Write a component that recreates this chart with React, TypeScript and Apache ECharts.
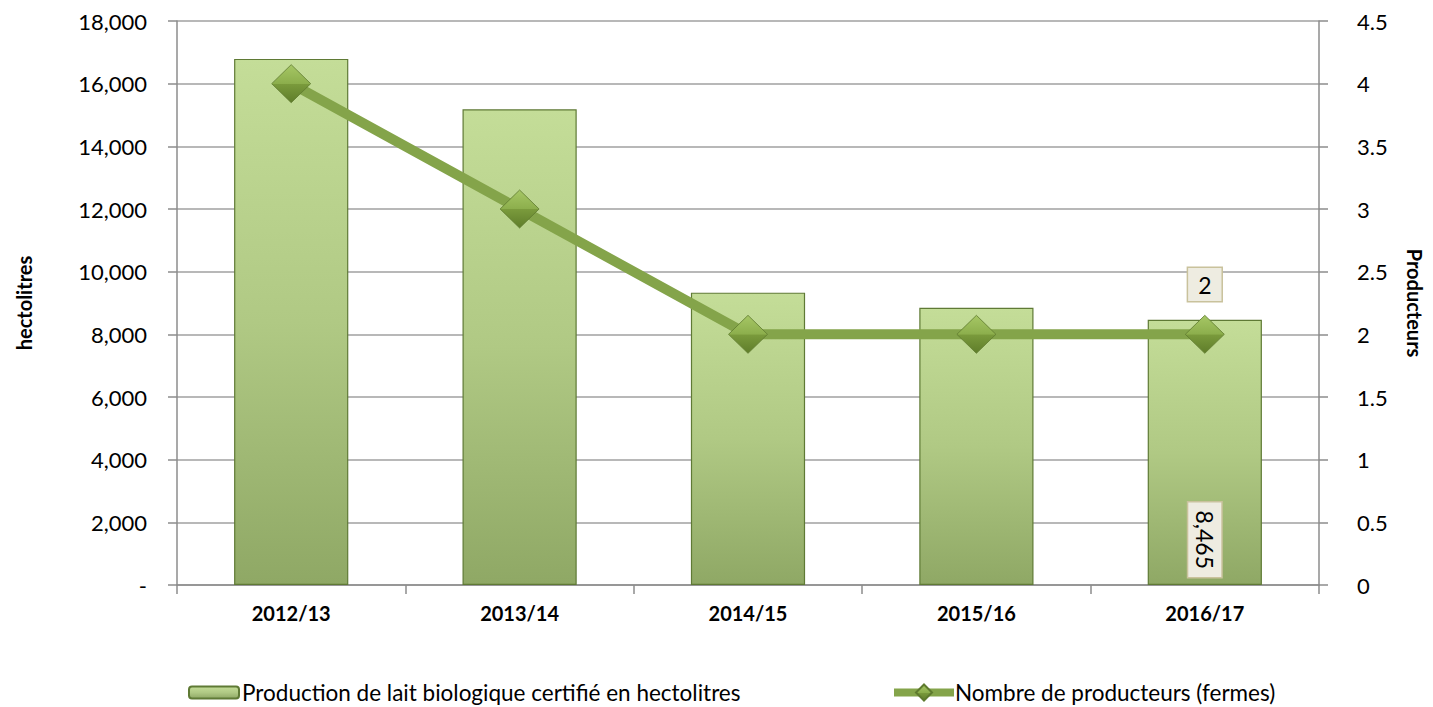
import React, { useEffect, useRef } from "react";
import * as echarts from "echarts";

const categories = ["2012/13", "2013/14", "2014/15", "2015/16", "2016/17"];
const production = [16790, 15180, 9330, 8850, 8465];
const producteurs = [4, 3, 2, 2, 2];
const seriesNames = [
  "Production de lait biologique certifié en hectolitres",
  "Nombre de producteurs (fermes)",
];

const FONT = "Lato, 'Open Sans', sans-serif";

export default function App() {
  const ref = useRef<HTMLDivElement>(null);
  useEffect(() => {
    if (!ref.current) return;
    const chart = echarts.init(ref.current, null, { renderer: "svg" });
    const barGrad = new echarts.graphic.LinearGradient(0, 0, 0, 1, [
      { offset: 0, color: "#c4dd98" },
      { offset: 0.5, color: "#b0c984" },
      { offset: 1, color: "#8fa865" },
    ]);
    const diamondGrad = new echarts.graphic.LinearGradient(0, 0, 0, 1, [
      { offset: 0, color: "#a6c765" },
      { offset: 0.5, color: "#8cae4c" },
      { offset: 0.51, color: "#7a9a3c" },
      { offset: 1, color: "#5f7d2a" },
    ]);
    const lastIdx = production.length - 1;
    const boxLabel = {
      fontFamily: FONT,
      fontSize: 23,
      color: "#000",
      backgroundColor: "#eeece1",
      borderColor: "#c9c29c",
      borderWidth: 1.5,
    };
    chart.setOption({
      animation: false,
      textStyle: { fontFamily: FONT },
      grid: { left: 177, right: 111, top: 21, bottom: 122, containLabel: false },
      legend: [
        {
          data: [seriesNames[0]],
          left: 183,
          top: 676,
          itemWidth: 50,
          itemHeight: 12,
          itemGap: 6,
          textStyle: { fontFamily: FONT, fontSize: 22.5, color: "#000", padding: [0, 0, 0, -2] },
        },
        {
          data: [seriesNames[1]],
          left: 885,
          top: 676,
          itemWidth: 60,
          itemHeight: 20,
          lineStyle: { width: 8 },
          textStyle: { fontFamily: FONT, fontSize: 22.5, color: "#000", padding: [0, 0, 0, -4] },
        },
      ],
      xAxis: {
        type: "category",
        data: categories,
        axisLine: { lineStyle: { color: "#8c8c8c", width: 1.5 } },
        axisTick: { show: true, length: 9, inside: false, lineStyle: { color: "#8c8c8c", width: 1.5 } },
        axisLabel: { fontFamily: FONT, fontSize: 20, fontWeight: "bold", color: "#000", margin: 18 },
      },
      yAxis: [
        {
          type: "value",
          min: 0,
          max: 18000,
          interval: 2000,
          name: "hectolitres",
          nameLocation: "middle",
          nameGap: 143,
          nameTextStyle: { fontFamily: FONT, fontSize: 20, fontWeight: "bold", color: "#000" },
          axisLine: { show: true, lineStyle: { color: "#8c8c8c", width: 1.5 } },
          axisTick: { show: true, length: 9, lineStyle: { color: "#8c8c8c", width: 1.5 } },
          splitLine: { show: true, lineStyle: { color: "#a0a0a0", width: 1.5 } },
          axisLabel: {
            fontFamily: FONT,
            fontSize: 22,
            color: "#000",
            margin: 30,
            formatter: (v: number) => (v === 0 ? "-" : v.toLocaleString("en-US")),
          },
        },
        {
          type: "value",
          min: 0,
          max: 4.5,
          interval: 0.5,
          name: "Producteurs",
          nameLocation: "middle",
          nameGap: 86,
          nameRotate: -90,
          nameTextStyle: { fontFamily: FONT, fontSize: 20, fontWeight: "bold", color: "#000" },
          axisLine: { show: true, lineStyle: { color: "#8c8c8c", width: 1.5 } },
          axisTick: { show: true, length: 9, lineStyle: { color: "#8c8c8c", width: 1.5 } },
          splitLine: { show: false },
          axisLabel: { fontFamily: FONT, fontSize: 22, color: "#000", margin: 38 },
        },
      ],
      series: [
        {
          name: seriesNames[0],
          type: "bar",
          yAxisIndex: 0,
          barWidth: "50%",
          itemStyle: { color: barGrad, borderColor: "#5f7a35", borderWidth: 1.2 },
          data: production.map((v, i) =>
            i === lastIdx
              ? {
                  value: v,
                  label: {
                    show: true,
                    position: "insideBottom",
                    distance: 8,
                    rotate: -90,
                    align: "right",
                    verticalAlign: "middle",
                    ...boxLabel,
                    padding: [6, 8, 4, 8],
                    formatter: (p: any) => Number(p.value).toLocaleString("en-US"),
                  },
                }
              : v
          ),
        },
        {
          name: seriesNames[1],
          type: "line",
          yAxisIndex: 1,
          symbol: "diamond",
          symbolSize: [39, 38],
          lineStyle: { color: "#84a44a", width: 10 },
          itemStyle: { color: diamondGrad, borderColor: "#5e7a2e", borderWidth: 0.8 },
          z: 5,
          data: producteurs.map((v, i) =>
            i === lastIdx
              ? {
                  value: v,
                  label: {
                    show: true,
                    position: "top",
                    distance: 14,
                    ...boxLabel,
                    padding: [6, 10, 4, 10],
                  },
                }
              : v
          ),
        },
      ],
    });
    return () => chart.dispose();
  }, []);
  return (
    <div
      ref={ref}
      style={{ position: "fixed", left: 0, top: 0, width: 1433, height: 707, background: "#fff" }}
    />
  );
}
